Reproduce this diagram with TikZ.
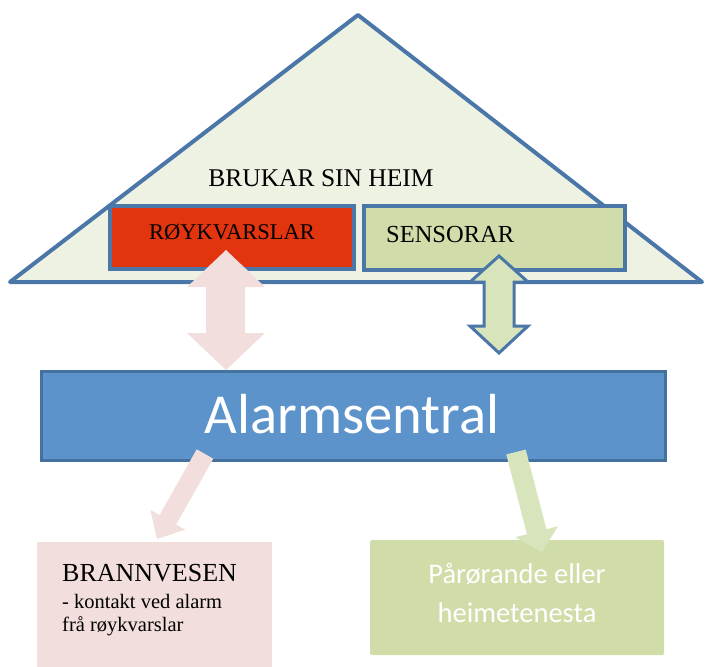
\documentclass[tikz,border=0pt]{standalone}
\usepackage{fontspec}
\setmainfont{Liberation Serif}
\newfontfamily\calibri{Carlito}
\definecolor{triFill}{HTML}{EEF2E3}
\definecolor{edgeBlue}{HTML}{4A76A8}
\definecolor{smokeRed}{HTML}{E2340F}
\definecolor{sensGreen}{HTML}{D0DDAA}
\definecolor{alarmBlue}{HTML}{5B93CA}
\definecolor{alarmEdge}{HTML}{44719F}
\definecolor{pinkFill}{HTML}{F2DEDC}
\definecolor{arrowGreen}{HTML}{D8E4BC}
\definecolor{boxGreen}{HTML}{D0DDA9}
\tikzset{
  outlinebox/.style={draw=edgeBlue, line width=4pt, inner sep=0pt},
  serifbig/.style={font=\fontsize{25.5}{30}\selectfont, text=black, inner sep=0pt},
  serifsmall/.style={font=\fontsize{20.5}{24}\selectfont, text=black, inner sep=0pt, anchor=west},
  sanswhite/.style={font=\calibri\fontsize{28.5}{32}\selectfont, text=white, inner sep=0pt}
}
\begin{document}
\begin{tikzpicture}[x=1pt,y=-1pt]
\useasboundingbox (0,0) rectangle (705,667);
% house triangle
\draw[line width=4pt, draw=edgeBlue, fill=triFill, line join=round] (10,282) -- (358,15) -- (702,282) -- cycle;
\node[serifbig] (heim) at (321,178) {BRUKAR SIN HEIM};
% boxes in the house
\node[outlinebox, fill=smokeRed, minimum width=244pt, minimum height=63pt] (smoke) at (232,237.5) {};
\node[font=\fontsize{22.5}{26}\selectfont, inner sep=0pt] (smoketext) at (232,232) {RØYKVARSLAR};
\node[outlinebox, fill=sensGreen, minimum width=261pt, minimum height=64pt] (sens) at (494.5,238) {};
\node[font=\fontsize{24.5}{28}\selectfont, inner sep=0pt, anchor=west] (senstext) at (386,235) {SENSORAR};
% alarm central
\node[draw=alarmEdge, line width=3pt, fill=alarmBlue, minimum width=624pt, minimum height=89pt, inner sep=0pt] (alarm) at (353.5,416) {};
\node[font=\calibri\fontsize{56.5}{60}\selectfont, text=white, inner sep=0pt] (alarmtext) at (352,414) {Alarmsentral};
% bottom boxes
\fill[pinkFill] (37,542) rectangle (272,667);
\node[inner sep=0pt, minimum width=235pt, minimum height=125pt] (brann) at (154.5,604.5) {};
\node[font=\fontsize{26}{30}\selectfont, inner sep=0pt, anchor=west] (branntext) at (62,573) {BRANNVESEN};
\node[serifsmall] (brann2) at (62,601) {- kontakt ved alarm};
\node[serifsmall] (brann3) at (62,626) {frå røykvarslar};
\node[fill=boxGreen, rounded corners=2pt, minimum width=294pt, minimum height=115pt, inner sep=0pt] (family) at (517,597.5) {};
\node[sanswhite] (fam1) at (517,574) {Pårørande eller};
\node[sanswhite] (fam2) at (517,613) {heimetenesta};
% double arrow smoke <-> alarm
\fill[pinkFill] (226,250) -- (265,287) -- (245,287) -- (245,333) -- (265,333) -- (226,370)
  -- (187,333) -- (206,333) -- (206,287) -- (187,287) -- cycle;
% double arrow sensors <-> alarm
\draw[draw=edgeBlue, line width=3pt, fill=arrowGreen, line join=miter] (499,256) -- (528,282) -- (514,282) -- (514,326) -- (528,326) -- (499,353)
  -- (470,326) -- (484,326) -- (484,282) -- (470,282) -- cycle;
% arrow alarm -> brannvesen
\fill[pinkFill] (213.3,458.7) -- (176.1,524.5) -- (185.2,529.6) -- (157,539) -- (150.4,510.0) -- (159.5,515.1) -- (196.7,449.3) -- cycle;
% arrow alarm -> family
\fill[arrowGreen] (525.7,449.5) -- (546.4,529.2) -- (558.0,526.2) -- (542,552) -- (515.4,537.2) -- (527.0,534.2) -- (506.3,454.5) -- cycle;
\end{tikzpicture}
\end{document}
